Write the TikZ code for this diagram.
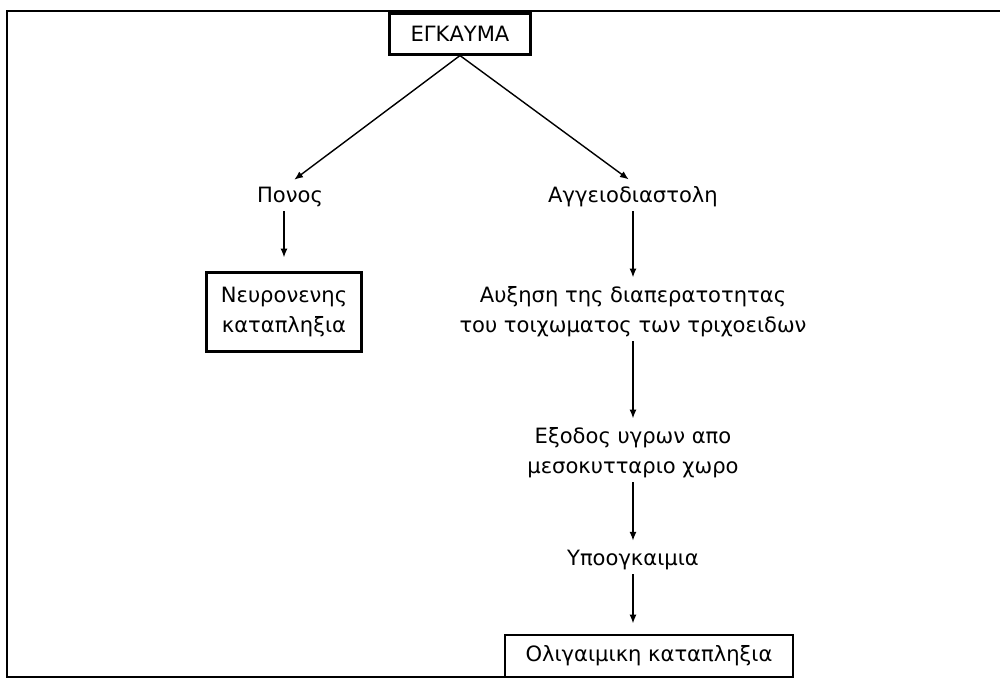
\documentclass[tikz,border=0pt]{standalone}
\usepackage{fontspec}
\setmainfont{DejaVu Sans}
\usetikzlibrary{arrows.meta}

\begin{document}
\begin{tikzpicture}[x=0.02cm,y=-0.02cm,thick,
  every node/.style={font=\fontsize{12}{17}\selectfont,align=center,inner sep=2pt},
  box/.style={draw,line width=1.2pt,inner sep=0pt},
  arr/.style={-{Latex[length=5pt,width=4pt]},shorten >=3pt}]
\useasboundingbox (0,0) rectangle (1000,684);
\draw[line width=1.5pt] (1000,11) -- (7,11) -- (7,677) -- (793,677);
\node[box,minimum width=2.82cm,minimum height=0.82cm] (egk) at (460,34) {ΕΓΚΑΥΜΑ};
\node (ponos) at (290,197) {Πονος};
\node (aggeio) at (633,197) {Αγγειοδιαστολη};
\node[box,minimum width=3.1cm,minimum height=1.58cm] (neur) at (284,312) {Νευρονενης\\καταπληξια};
\node (auxisi) at (633,312) {Αυξηση της διαπερατοτητας\\του τοιχωματος των τριχοειδων};
\node (exodos) at (633,453) {Εξοδος υγρων απο\\μεσοκυτταριο χωρο};
\node (ypo) at (633,560) {Υποογκαιμια};
\node[box,minimum width=5.76cm,minimum height=0.84cm] (olig) at (649,656) {Ολιγαιμικη καταπληξια};
\draw[arr] (egk.south) -- (ponos.north);
\draw[arr] (egk.south) -- (aggeio.north);
\draw[arr,shorten >=8pt] (neur |- ponos.south) -- (neur.north);
\draw[arr] (aggeio) -- (auxisi);
\draw[arr] (auxisi) -- (exodos);
\draw[arr] (exodos) -- (ypo);
\draw[arr,shorten >=6pt] (ypo) -- (ypo |- olig.north);
\end{tikzpicture}
\end{document}
